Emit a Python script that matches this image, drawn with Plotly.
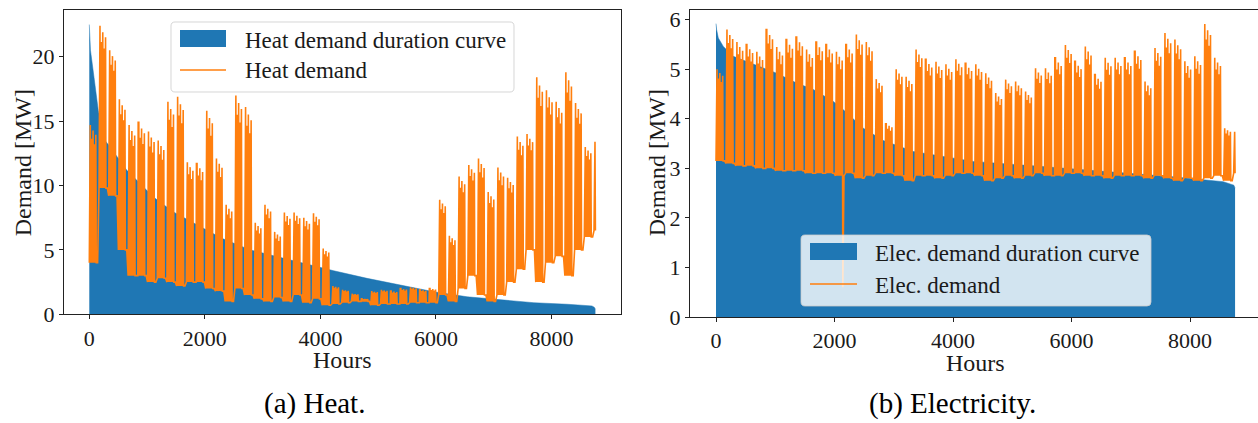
import plotly.graph_objects as go

W, H = 1258, 423

# ---------------- data ----------------
# Heat demand: weekly weekday peak and weekly low level [MW], weeks 0..52
heat_peak_mw = [
    14.7, 22.4, 20.5, 16.7, 14.7, 14.9, 14.2, 13.5, 16.5, 16.9,
    11.8, 11.7, 15.8, 12.1, 8.5, 17.0, 16.1, 7.1, 8.5, 6.4,
    7.9, 7.9, 7.5, 7.85, 5.1, 2.2, 1.9, 1.6, 1.2, 1.8,
    1.9, 1.8, 2.0, 2.1, 1.9, 2.0, 8.9, 6.1, 10.7, 11.6,
    12.1, 9.5, 11.4, 10.6, 13.8, 14.0, 18.4, 17.4, 16.5, 18.8,
    16.4, 13.0, 13.4,
]
heat_low_mw = [
    4.0, 9.8, 9.2, 5.0, 3.0, 3.0, 2.5, 2.8, 2.5, 2.2,
    2.5, 2.5, 2.0, 1.8, 1.0, 2.0, 1.5, 1.2, 1.0, 1.3,
    1.0, 1.5, 0.9, 1.2, 0.7, 0.8, 0.9, 1.0, 1.0, 0.7,
    0.8, 0.8, 0.8, 0.9, 0.9, 0.9, 1.5, 1.0, 2.0, 3.0,
    1.5, 1.0, 1.5, 2.5, 3.5, 5.0, 2.5, 4.0, 4.5, 3.0,
    5.0, 6.0, 6.5,
]
# Electricity demand: weekly weekday peak and weekly low level [MW]
elec_peak_mw = [
    5.00, 5.80, 5.55, 5.50, 5.35, 5.80, 5.45, 5.60, 5.65, 5.40,
    5.55, 5.50, 5.35, 5.50, 5.70, 5.55, 4.80, 3.90, 5.00, 4.85,
    5.40, 5.20, 5.15, 5.10, 5.20, 5.12, 5.10, 4.92, 4.52, 4.79,
    4.75, 4.55, 5.02, 5.02, 5.23, 5.49, 5.16, 5.46, 4.89, 5.23,
    5.23, 5.23, 5.36, 4.75, 5.43, 5.73, 5.60, 5.16, 5.26, 5.91,
    5.23, 3.81, 3.74,
]
elec_low_mw = [
    3.15, 3.10, 3.05, 3.05, 3.00, 3.00, 2.95, 2.95, 2.95, 2.90,
    2.90, 2.90, 2.85, 2.90, 2.80, 2.85, 2.90, 2.90, 2.85, 2.75,
    2.85, 2.85, 2.80, 2.85, 2.90, 2.90, 2.85, 2.75, 2.80, 2.85,
    2.80, 2.85, 2.90, 2.85, 2.85, 2.90, 2.90, 2.85, 2.85, 2.80,
    2.85, 2.85, 2.85, 2.80, 2.85, 2.80, 2.75, 2.80, 2.75, 2.80,
    2.85, 2.75, 2.90,
]
# relative height of the daily peak on each weekday (Mon..Fri)
weekday_peak_share = [1.0, 0.9, 0.96, 0.86, 0.93]
# single outlier hour in the electricity series
elec_dip_hours = [2140]
elec_dip_mw = [0.6]

# duration curves (sorted demand)
heat_duration_hours = [0, 20, 70, 156, 272, 360, 647, 1110, 1456, 1919, 2294, 2785,
                       3247, 3820, 4231, 4808, 5385, 5962, 6540, 7118, 7695, 8273,
                       8700, 8740, 8760]
heat_duration_mw = [22.5, 20.5, 18.8, 15.8, 13.5, 13.0, 11.2, 9.1, 7.95, 6.8, 5.9, 5.0,
                    4.47, 3.8, 3.38, 2.79, 2.27, 1.75, 1.36, 1.11, 0.9, 0.78,
                    0.65, 0.55, 0.4]
elec_duration_hours = [0, 10, 39, 123, 292, 518, 799, 1024, 1362, 1643, 1981, 2150,
                       2487, 2825, 3331, 3837, 4343, 5468, 6593, 7718, 8561, 8740, 8760]
elec_duration_mw = [5.92, 5.8, 5.63, 5.46, 5.26, 5.16, 5.02, 4.92, 4.72, 4.59, 4.35, 4.18,
                    3.81, 3.56, 3.34, 3.24, 3.14, 3.04, 2.94, 2.83, 2.73, 2.66, 2.6]

x_ticks = [0, 2000, 4000, 6000, 8000]
heat_y_ticks = [0, 5, 10, 15, 20]
elec_y_ticks = [0, 1, 2, 3, 4, 5, 6]

HOURS = 8760
BLUE = "#1f77b4"
ORANGE = "#ff7f0e"
FONT = "Liberation Serif"
INK = "#1a1a1a"


def hourly_from_weeks(peaks, lows, extra_h=(), extra_v=()):
    pts = []
    for w, (p, lo) in enumerate(zip(peaks, lows)):
        for d in range(7):
            h0 = w * 168 + d * 24
            if h0 >= HOURS:
                break
            if d < 5:
                pk = lo + (p - lo) * weekday_peak_share[d]
                pts += [(h0, lo), (h0 + 6, pk), (h0 + 17, pk)]
            else:
                pts.append((h0, lo))
    pts.append((HOURS, lows[-1]))
    pts += list(zip(extra_h, extra_v))
    pts.sort()
    return [a for a, _ in pts], [b for _, b in pts]


heat_x, heat_y = hourly_from_weeks(heat_peak_mw, heat_low_mw)
elec_x, elec_y = hourly_from_weeks(elec_peak_mw, elec_low_mw, elec_dip_hours, elec_dip_mw)

fig = go.Figure()
fig.add_trace(go.Scatter(x=heat_duration_hours, y=heat_duration_mw, mode="lines",
                         fill="tozeroy", fillcolor=BLUE, line=dict(color=BLUE, width=0.5),
                         name="Heat demand duration curve", showlegend=False,
                         xaxis="x", yaxis="y"))
fig.add_trace(go.Scatter(x=heat_x, y=heat_y, mode="lines",
                         line=dict(color=ORANGE, width=1.6),
                         name="Heat demand", showlegend=False, xaxis="x", yaxis="y"))
fig.add_trace(go.Scatter(x=elec_duration_hours, y=elec_duration_mw, mode="lines",
                         fill="tozeroy", fillcolor=BLUE, line=dict(color=BLUE, width=0.5),
                         name="Elec. demand duration curve", showlegend=False,
                         xaxis="x2", yaxis="y2"))
fig.add_trace(go.Scatter(x=elec_x, y=elec_y, mode="lines",
                         line=dict(color=ORANGE, width=1.6),
                         name="Elec. demand", showlegend=False, xaxis="x2", yaxis="y2"))


def px_x(x):
    return x / W


def px_y(y):
    return 1 - y / H


axis_common = dict(showgrid=False, zeroline=False, showline=True, linecolor="#222",
                   linewidth=1, ticks="outside", ticklen=4, tickwidth=1, tickcolor="#222",
                   automargin=False,
                   tickfont=dict(family=FONT, size=22, color=INK))

fig.update_layout(
    width=W, height=H, autosize=False,
    margin=dict(l=0, r=0, t=0, b=0),
    paper_bgcolor="white", plot_bgcolor="white",
    showlegend=False,
    xaxis=dict(domain=[px_x(64), px_x(620.7)], range=[-438, 9198], anchor="y",
               tickvals=x_ticks, mirror=True, **axis_common),
    yaxis=dict(domain=[px_y(314.3), px_y(10)], range=[0, 23.63], anchor="x",
               tickvals=heat_y_ticks, mirror=True, **axis_common),
    xaxis2=dict(domain=[px_x(690), 1.0], range=[-439, 9147], anchor="y2",
                tickvals=x_ticks, mirror=True, **axis_common),
    yaxis2=dict(domain=[px_y(317), px_y(10)], range=[0, 6.195], anchor="x2",
                tickvals=elec_y_ticks, mirror=False, **axis_common),
)

# axis titles
for (cx, cy, txt, ang) in ((342.3, 359.5, "Hours", 0), (975.5, 363, "Hours", 0),
                           (23, 163.3, "Demand [MW]", -90), (657, 163.3, "Demand [MW]", -90)):
    fig.add_annotation(text=txt, x=px_x(cx), y=px_y(cy), xref="paper", yref="paper",
                       xanchor="center", yanchor="middle", showarrow=False, textangle=ang,
                       font=dict(family=FONT, size=24, color=INK))


def rounded_box(x0, y0, x1, y1, r=4):
    X = lambda v: f"{px_x(v):.6f}"
    Y = lambda v: f"{px_y(v):.6f}"
    return (f"M{X(x0 + r)},{Y(y0)} L{X(x1 - r)},{Y(y0)} Q{X(x1)},{Y(y0)} {X(x1)},{Y(y0 + r)} "
            f"L{X(x1)},{Y(y1 - r)} Q{X(x1)},{Y(y1)} {X(x1 - r)},{Y(y1)} "
            f"L{X(x0 + r)},{Y(y1)} Q{X(x0)},{Y(y1)} {X(x0)},{Y(y1 - r)} "
            f"L{X(x0)},{Y(y0 + r)} Q{X(x0)},{Y(y0)} {X(x0 + r)},{Y(y0)} Z")


def add_legend(box, patch, line_y, text_x, rows, labels):
    fig.add_shape(type="path", path=rounded_box(*box), xref="paper", yref="paper",
                  fillcolor="rgba(255,255,255,0.8)", line=dict(color="rgba(204,204,204,0.8)", width=1),
                  layer="above")
    fig.add_shape(type="rect", xref="paper", yref="paper",
                  x0=px_x(patch[0]), x1=px_x(patch[2]), y0=px_y(patch[1]), y1=px_y(patch[3]),
                  fillcolor=BLUE, line=dict(width=0), layer="above")
    fig.add_shape(type="line", xref="paper", yref="paper",
                  x0=px_x(patch[0]), x1=px_x(patch[2]), y0=px_y(line_y), y1=px_y(line_y),
                  line=dict(color=ORANGE, width=1.6), layer="above")
    for ry, lab in zip(rows, labels):
        fig.add_annotation(text=lab, x=px_x(text_x), y=px_y(ry), xref="paper", yref="paper",
                           xanchor="left", yanchor="middle", showarrow=False,
                           font=dict(family=FONT, size=23, color=INK))


add_legend((171, 22, 514, 92), (180, 30, 226, 47), 70, 243, (40, 70),
           ("Heat demand duration curve", "Heat demand"))
add_legend((801, 235, 1151, 306), (810, 243, 857, 260), 284, 873, (253, 285),
           ("Elec. demand duration curve", "Elec. demand"))

for cx, txt in ((314, "(a) Heat."), (952, "(b) Electricity.")):
    fig.add_annotation(text=txt, x=px_x(cx), y=0.002, xref="paper", yref="paper",
                       xanchor="center", yanchor="bottom", showarrow=False,
                       font=dict(family=FONT, size=29, color="black"))

fig.write_html("out.html")
